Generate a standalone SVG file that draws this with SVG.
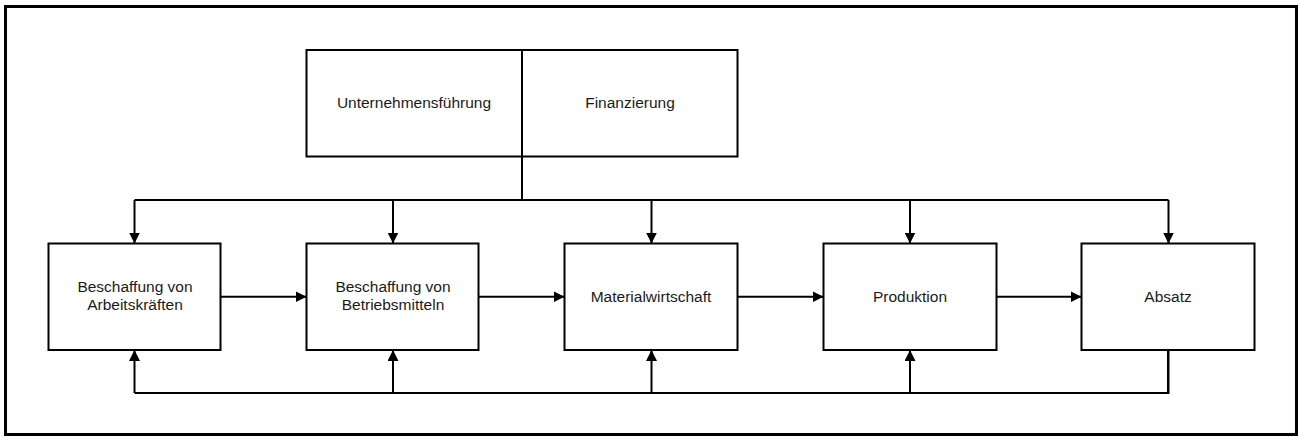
<svg xmlns="http://www.w3.org/2000/svg" width="1301" height="437" viewBox="0 0 1301 437">
  <style>
    .box { fill: #ffffff; stroke: #000000; stroke-width: 2; }
    .lbl { font-family: "Liberation Sans", Arial, sans-serif; font-size: 15.5px; fill: #1a1a1a; text-anchor: middle; }
    .wire { fill: none; stroke: #000000; stroke-width: 2; }
    .arr { fill: none; stroke: #000000; stroke-width: 2; marker-end: url(#head); }
  </style>
  <defs>
    <marker id="head" viewBox="0 0 10 10" refX="10" refY="5" markerWidth="5.5" markerHeight="5.5" markerUnits="strokeWidth" orient="auto">
      <path d="M0,0 L10,5 L0,10 Z" fill="#000000"/>
    </marker>
  </defs>

  <rect width="1301" height="437" fill="#ffffff"/>
  <!-- outer frame -->
  <rect x="5.5" y="6.5" width="1291" height="428" fill="none" stroke="#000000" stroke-width="3"/>

  <!-- management / finance block -->
  <g id="node-unternehmensfuehrung">
    <rect class="box" x="306.5" y="50" width="215.5" height="106.5"/>
    <text class="lbl" x="414" y="108">Unternehmensführung</text>
  </g>
  <g id="node-finanzierung">
    <rect class="box" x="522" y="50" width="215.5" height="106.5"/>
    <text class="lbl" x="630" y="108">Finanzierung</text>
  </g>

  <!-- functional areas -->
  <g id="node-arbeitskraefte">
    <rect class="box" x="48.5" y="243.5" width="172" height="106.5"/>
    <text class="lbl" x="135" y="291.5">Beschaffung von</text>
    <text class="lbl" x="135" y="309.5">Arbeitskräften</text>
  </g>
  <g id="node-betriebsmittel">
    <rect class="box" x="306.5" y="243.5" width="172" height="106.5"/>
    <text class="lbl" x="393" y="291.5">Beschaffung von</text>
    <text class="lbl" x="393" y="309.5">Betriebsmitteln</text>
  </g>
  <g id="node-materialwirtschaft">
    <rect class="box" x="564.5" y="243.5" width="173" height="106.5"/>
    <text class="lbl" x="651" y="302">Materialwirtschaft</text>
  </g>
  <g id="node-produktion">
    <rect class="box" x="823.5" y="243.5" width="173" height="106.5"/>
    <text class="lbl" x="910" y="302">Produktion</text>
  </g>
  <g id="node-absatz">
    <rect class="box" x="1081.5" y="243.5" width="173" height="106.5"/>
    <text class="lbl" x="1168" y="302">Absatz</text>
  </g>

  <g id="connectors">
    <!-- distribution bus from the top block -->
    <path class="wire" d="M522,156.5 V200 M134.5,200 H1168.5"/>
    <path class="arr" d="M134.5,200 V243.5"/>
    <path class="arr" d="M393,200 V243.5"/>
    <path class="arr" d="M651.5,200 V243.5"/>
    <path class="arr" d="M910,200 V243.5"/>
    <path class="arr" d="M1168.5,200 V243.5"/>

    <!-- flow between areas -->
    <path class="arr" d="M220.5,296.7 H306.5"/>
    <path class="arr" d="M478.5,296.7 H564.5"/>
    <path class="arr" d="M737.5,296.7 H823.5"/>
    <path class="arr" d="M996.5,296.7 H1081.5"/>

    <!-- feedback from sales -->
    <path class="wire" d="M1168.5,350 V393 H134.5"/>
    <path class="wire" d="M1168,350 V393" stroke-width="3"/>
    <path class="arr" d="M134.5,393 V350"/>
    <path class="arr" d="M393,393 V350"/>
    <path class="arr" d="M651.5,393 V350"/>
    <path class="arr" d="M910,393 V350"/>
  </g>
</svg>
